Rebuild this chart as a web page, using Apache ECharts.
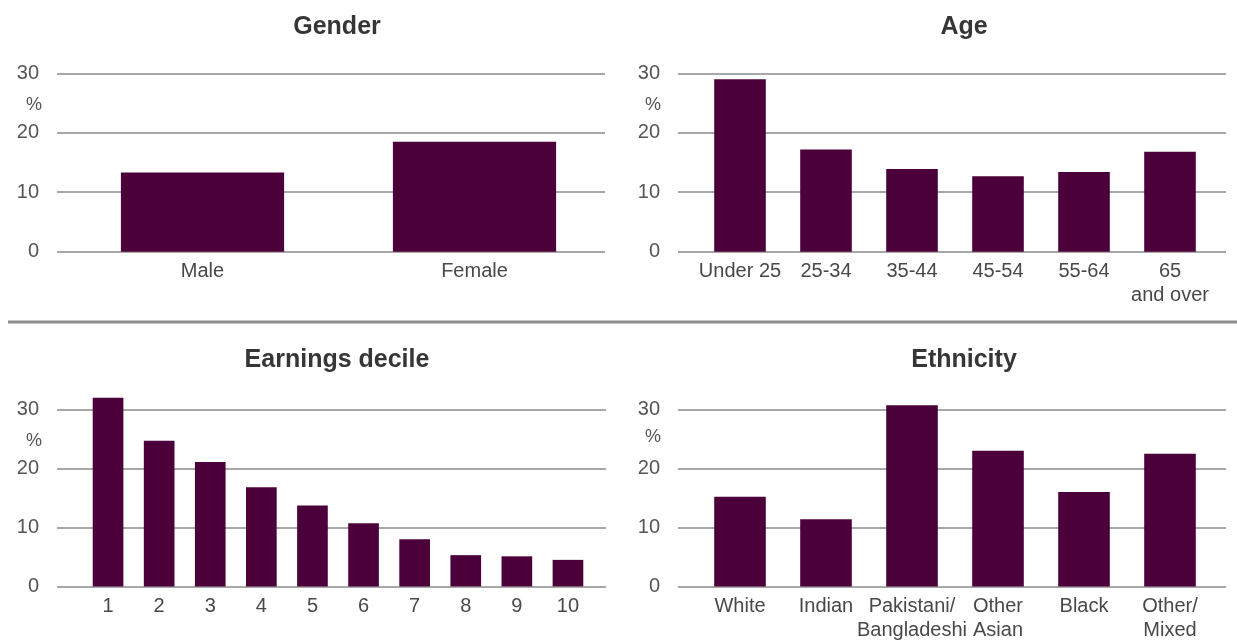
<!DOCTYPE html>
<html>
<head>
<meta charset="utf-8">
<title>Share of employees by group</title>
<script src="https://cdn.jsdelivr.net/npm/echarts@6/dist/echarts.min.js"></script>
<style>
    html, body { margin: 0; padding: 0; background: #ffffff; }
    #main { width: 1237px; height: 644px; }
</style>
</head>
<body>
<div id="main"></div>
<script>
// chart values (%)
var genderCats = ['Male', 'Female'];
var genderVals = [13.3, 18.5];

var ageCats = ['Under 25', '25-34', '35-44', '45-54', '55-64', '65\nand over'];
var ageVals = [29.0, 17.2, 13.9, 12.7, 13.4, 16.8];

var decileCats = ['1', '2', '3', '4', '5', '6', '7', '8', '9', '10'];
var decileVals = [32.0, 24.7, 21.1, 16.8, 13.7, 10.7, 8.0, 5.3, 5.1, 4.5];

var ethnicCats = ['White', 'Indian', 'Pakistani/\nBangladeshi', 'Other\nAsian', 'Black', 'Other/\nMixed'];
var ethnicVals = [15.2, 11.4, 30.7, 23.0, 16.0, 22.5];

var panelTitles = ['Gender', 'Age', 'Earnings decile', 'Ethnicity'];
var yMin = 0, yMax = 30, yStep = 10;

(function () {

    var FONT = '"Liberation Sans", Arial, sans-serif';
    var BAR = '#4c0039';

    var cats = [genderCats, ageCats, decileCats, ethnicCats];
    var vals = [genderVals, ageVals, decileVals, ethnicVals];

    // layout of each panel: gridline box, bar box, title and % position
    var layout = [
        { line: [57, 73.3, 548, 178.4],   bar: [66.5, 544], tx: 337, ty: 15, px: 34,  py: 105 },
        { line: [678, 73.3, 548, 178.4],  bar: [697, 516],  tx: 964, ty: 15, px: 653, py: 105 },
        { line: [57, 409.5, 549, 176.9],  bar: [82.5, 511], tx: 337, ty: 348, px: 34, py: 441 },
        { line: [678, 409.5, 548, 176.9], bar: [697, 516],  tx: 964, ty: 348, px: 653, py: 437 }
    ];

    var grid = [], xAxis = [], yAxis = [], series = [], title = [], graphic = [];

    graphic.push({
        type: 'line',
        shape: { x1: 8, y1: 322, x2: 1237, y2: 322 },
        style: { stroke: '#8c8c8c', lineWidth: 3 }
    });

    for (var i = 0; i < 4; i++) {
        var L = layout[i];
        var g = grid.length;

        // grid for the value axis and its gridlines
        grid.push({ left: L.line[0], top: L.line[1], width: L.line[2], height: L.line[3], outerBoundsMode: 'none' });
        // grid for the bars
        grid.push({ left: L.bar[0], top: L.line[1], width: L.bar[1], height: L.line[3], outerBoundsMode: 'none' });

        xAxis.push({ type: 'value', gridIndex: g, show: false });
        yAxis.push({
            type: 'value', gridIndex: g, min: yMin, max: yMax, interval: yStep,
            axisLine: { show: false },
            axisTick: { show: false },
            axisLabel: { margin: 18, fontSize: 20, color: '#555555', fontFamily: FONT },
            splitLine: { show: true, lineStyle: { color: '#a8a8a8', width: 2 } }
        });

        xAxis.push({
            type: 'category', gridIndex: g + 1, data: cats[i],
            axisLine: { show: false },
            axisTick: { show: false },
            axisLabel: { interval: 0, margin: 8, fontSize: 20, lineHeight: 24, color: '#484848', fontFamily: FONT }
        });
        yAxis.push({ type: 'value', gridIndex: g + 1, min: yMin, max: yMax, show: false });

        series.push({
            type: 'bar',
            xAxisIndex: g + 1,
            yAxisIndex: g + 1,
            data: vals[i],
            barCategoryGap: '40%',
            clip: false,
            itemStyle: { color: BAR },
            silent: true
        });

        title.push({
            text: panelTitles[i],
            left: L.tx, top: L.ty,
            textAlign: 'center',
            padding: 0,
            textStyle: { fontSize: 25, fontWeight: 'bold', color: '#363636', fontFamily: FONT }
        });

        graphic.push({
            type: 'text',
            x: L.px, y: L.py,
            style: {
                text: '%', fill: '#555555', fontSize: 18, fontFamily: FONT,
                textAlign: 'center', verticalAlign: 'middle', textVerticalAlign: 'middle'
            }
        });
    }

    var myChart = echarts.init(document.getElementById('main'));
    myChart.setOption({
        animation: false,
        backgroundColor: '#ffffff',
        title: title,
        grid: grid,
        xAxis: xAxis,
        yAxis: yAxis,
        series: series,
        graphic: graphic
    });
    window.addEventListener('resize', function () {
        myChart.resize();
    });

})();
</script>
</body>
</html>
